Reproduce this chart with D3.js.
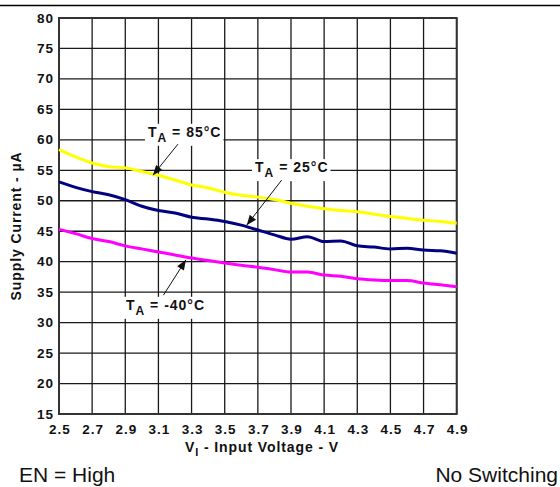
<!DOCTYPE html>
<html>
<head>
<meta charset="utf-8">
<script src="https://cdn.jsdelivr.net/npm/d3@7"></script>
<style>
  html, body { margin: 0; padding: 0; background: #fff; }
  svg { display: block; }
  text { font-family: "Liberation Sans", Arial, sans-serif; }
</style>
</head>
<body>
<svg id="chart" width="560" height="487"></svg>
<script>
// ---- data ----
const voltage = [2.5,2.6,2.7,2.8,2.9,3.0,3.1,3.2,3.3,3.4,3.5,3.6,3.7,3.8,3.9,4.0,4.1,4.2,4.3,4.4,4.5,4.6,4.7,4.8,4.9];
const current85 = [58.4,57.2,56.2,55.6,55.4,54.8,54.2,53.4,52.6,52.1,51.4,50.9,50.6,50.2,49.6,49.1,48.7,48.4,48.2,47.8,47.4,47.1,46.8,46.6,46.3];
const current25 = [53.1,52.2,51.5,51.0,50.2,49.1,48.4,48.0,47.3,47.0,46.6,46.0,45.2,44.4,43.7,44.1,43.3,43.4,42.6,42.4,42.1,42.2,41.9,41.8,41.4];
const currentM40 = [45.3,44.6,43.8,43.3,42.6,42.1,41.6,41.1,40.6,40.2,39.8,39.4,39.1,38.7,38.3,38.3,37.8,37.6,37.2,37.0,36.9,36.9,36.5,36.2,35.9];
const xTicks = [2.5,2.7,2.9,3.1,3.3,3.5,3.7,3.9,4.1,4.3,4.5,4.7,4.9];
const yTicks = [15,20,25,30,35,40,45,50,55,60,65,70,75,80];
const seriesNames = ["85", "25", "-40"];
const seriesColors = ["#ffff00", "#000080", "#ff00ff"];
// annotation: label temperature, text anchor (V, µA), arrow start, arrow tip
const annTemps = ["85", "25", "-40"];
const annText = [[3.037, 60.5], [3.683, 54.7], [2.904, 32.1]];
const annFrom = [[3.218, 59.3], [3.844, 53.4], [3.13, 34.5]];
const annTo = [[3.067, 54.2], [3.633, 46.0], [3.266, 40.3]];

// ---- layout ----
const svg = d3.select("#chart");
const L = 59, T = 18, W = 397.7, H = 396;
const x = d3.scaleLinear().domain([2.5, 4.9]).range([L, L + W]);
const y = d3.scaleLinear().domain([15, 80]).range([T + H, T]);

// top rule
svg.append("line").attr("x1", 0).attr("x2", 560).attr("y1", 5.5).attr("y2", 5.5)
  .attr("stroke", "#000").attr("stroke-width", 1.5);

// grid
const g = svg.append("g");
g.selectAll("line.vx").data(xTicks).join("line")
  .attr("x1", d => x(d)).attr("x2", d => x(d)).attr("y1", T).attr("y2", T + H)
  .attr("stroke", "#1a1a1a").attr("stroke-width", 1.3);
g.selectAll("line.hy").data(yTicks).join("line")
  .attr("y1", d => y(d)).attr("y2", d => y(d)).attr("x1", L).attr("x2", L + W)
  .attr("stroke", "#1a1a1a").attr("stroke-width", 1.3);

// frame
svg.append("rect").attr("x", L).attr("y", T).attr("width", W).attr("height", H)
  .attr("fill", "none").attr("stroke", "#333").attr("stroke-width", 2);

// axes (tick labels)
const xAxis = d3.axisBottom(x).tickValues(xTicks).tickSize(0).tickPadding(10).tickFormat(d3.format(".1f"));
const yAxis = d3.axisLeft(y).tickValues(yTicks).tickSize(0).tickPadding(5).tickFormat(d3.format("d"));
const gx = svg.append("g").attr("transform", `translate(0,${T + H})`).call(xAxis);
const gy = svg.append("g").attr("transform", `translate(${L},0)`).call(yAxis);
[gx, gy].forEach(a => {
  a.select(".domain").remove();
  a.selectAll("text").attr("font-family", "Liberation Sans, Arial, sans-serif")
    .attr("font-size", 13.5).attr("font-weight", "bold").attr("letter-spacing", 1).attr("fill", "#111");
});
gy.selectAll("text").attr("dy", "0.3em");
gx.selectAll("text").attr("dx", 0.5);

// lines
const line = d3.line().x((d, i) => x(voltage[i])).y(d => y(d)).curve(d3.curveMonotoneX);
[current85, current25, currentM40].forEach((s, k) => {
  svg.append("path").datum(s).attr("d", line).attr("fill", "none")
    .attr("stroke", seriesColors[k]).attr("stroke-width", 3).attr("stroke-linejoin", "round");
});

// annotations
svg.append("defs").append("marker").attr("id", "ah").attr("viewBox", "0 0 10 10")
  .attr("refX", 10).attr("refY", 5).attr("markerWidth", 13).attr("markerHeight", 10)
  .attr("markerUnits", "userSpaceOnUse").attr("orient", "auto")
  .append("path").attr("d", "M0,1 L10,5 L0,9 Z").attr("fill", "#111");

annTemps.forEach((t, i) => {
  const ga = svg.append("g");
  const rect = ga.append("rect").attr("fill", "#fff");
  const txt = ga.append("text").attr("x", x(annText[i][0])).attr("y", y(annText[i][1]))
    .attr("font-size", 14).attr("font-weight", "bold").attr("letter-spacing", 1).attr("fill", "#111");
  txt.append("tspan").text("T");
  txt.append("tspan").attr("font-size", 12).attr("dy", 5).text("A");
  txt.append("tspan").attr("dy", -5).text(" = " + t + "°C");
  const bb = txt.node().getBBox();
  rect.attr("x", bb.x - 3).attr("y", bb.y).attr("width", bb.width + 5).attr("height", bb.height + 1);
  svg.append("line")
    .attr("x1", x(annFrom[i][0])).attr("y1", y(annFrom[i][1]))
    .attr("x2", x(annTo[i][0])).attr("y2", y(annTo[i][1]))
    .attr("stroke", "#111").attr("stroke-width", 1).attr("marker-end", "url(#ah)");
});

// axis titles
const xt = svg.append("text").attr("x", 262).attr("y", 452).attr("text-anchor", "middle")
  .attr("font-size", 14).attr("font-weight", "bold").attr("letter-spacing", 0.9).attr("fill", "#111");
xt.append("tspan").text("V");
xt.append("tspan").attr("font-size", 11).attr("dy", 4).text("I");
xt.append("tspan").attr("dy", -4).text(" - Input Voltage - V");

svg.append("text").attr("transform", `translate(20.5,226) rotate(-90)`)
  .attr("text-anchor", "middle").attr("font-size", 14).attr("font-weight", "bold")
  .attr("letter-spacing", 0.9).attr("fill", "#111")
  .text("Supply Current - µA");

// footnotes
svg.append("text").attr("x", 19).attr("y", 482).attr("font-size", 21).attr("fill", "#111").text("EN = High");
svg.append("text").attr("x", 558).attr("y", 482).attr("text-anchor", "end").attr("font-size", 21).attr("fill", "#111").text("No Switching");
</script>
</body>
</html>
